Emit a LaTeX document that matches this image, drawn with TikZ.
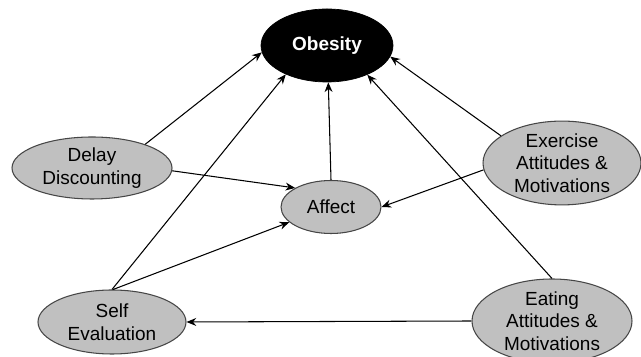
\documentclass[tikz,border=0pt]{standalone}
\usepackage{fontspec}
\setmainfont{Liberation Sans}
\usetikzlibrary{shapes.geometric,arrows.meta}
\definecolor{factorgray}{RGB}{192,192,192}
\definecolor{rimgray}{RGB}{70,70,70}
\tikzset{
  factor/.style={ellipse,draw=rimgray,fill=factorgray,line width=0.6pt,inner sep=0pt,
    align=center,font=\fontsize{10.8}{12.9}\selectfont},
  outcome/.style={ellipse,draw=black,fill=black,inner sep=0pt,text=white,
    font=\fontsize{10.8}{12.9}\selectfont\bfseries},
  link/.style={line width=0.6pt,-{Stealth[length=5.5pt,width=4.5pt]}}
}
\begin{document}
\begin{tikzpicture}
  \useasboundingbox (0,0) rectangle (12.82,7.14);
  \clip (0,0) rectangle (12.82,7.14);
  % nodes
  \node[outcome,minimum width=2.64cm,minimum height=1.46cm] (obe) at (6.54,6.23) {Obesity};
  \node[factor,minimum width=3.20cm,minimum height=1.24cm] (dd) at (1.84,3.78) {Delay\\Discounting};
  \node[factor,minimum width=3.16cm,minimum height=1.60cm] (exe) at (11.24,3.88) {Exercise\\Attitudes \&\\Motivations};
  \node[factor,minimum width=2.00cm,minimum height=1.06cm] (aff) at (6.62,3.00) {Affect};
  \node[factor,minimum width=2.96cm,minimum height=1.28cm] (se) at (2.24,0.70) {Self\\Evaluation};
  \node[factor,minimum width=3.20cm,minimum height=1.68cm] (eat) at (11.04,0.72) {Eating\\Attitudes \&\\Motivations};
  % connectors
  \draw[link] (dd.24) -- (obe.186);
  \draw[link] (dd.358) -- (aff.152);
  \draw[link] (se.90) -- (obe.215);
  \draw[link] (se.88) -- (aff.200);
  \draw[link] (aff.90) -- (obe.272);
  \draw[link] (exe.156) -- (obe.350);
  \draw[link] (exe.185) -- (aff.0);
  \draw[link] (eat.90) -- (obe.324);
  \draw[link] (eat.180) -- (se.0);
\end{tikzpicture}
\end{document}
